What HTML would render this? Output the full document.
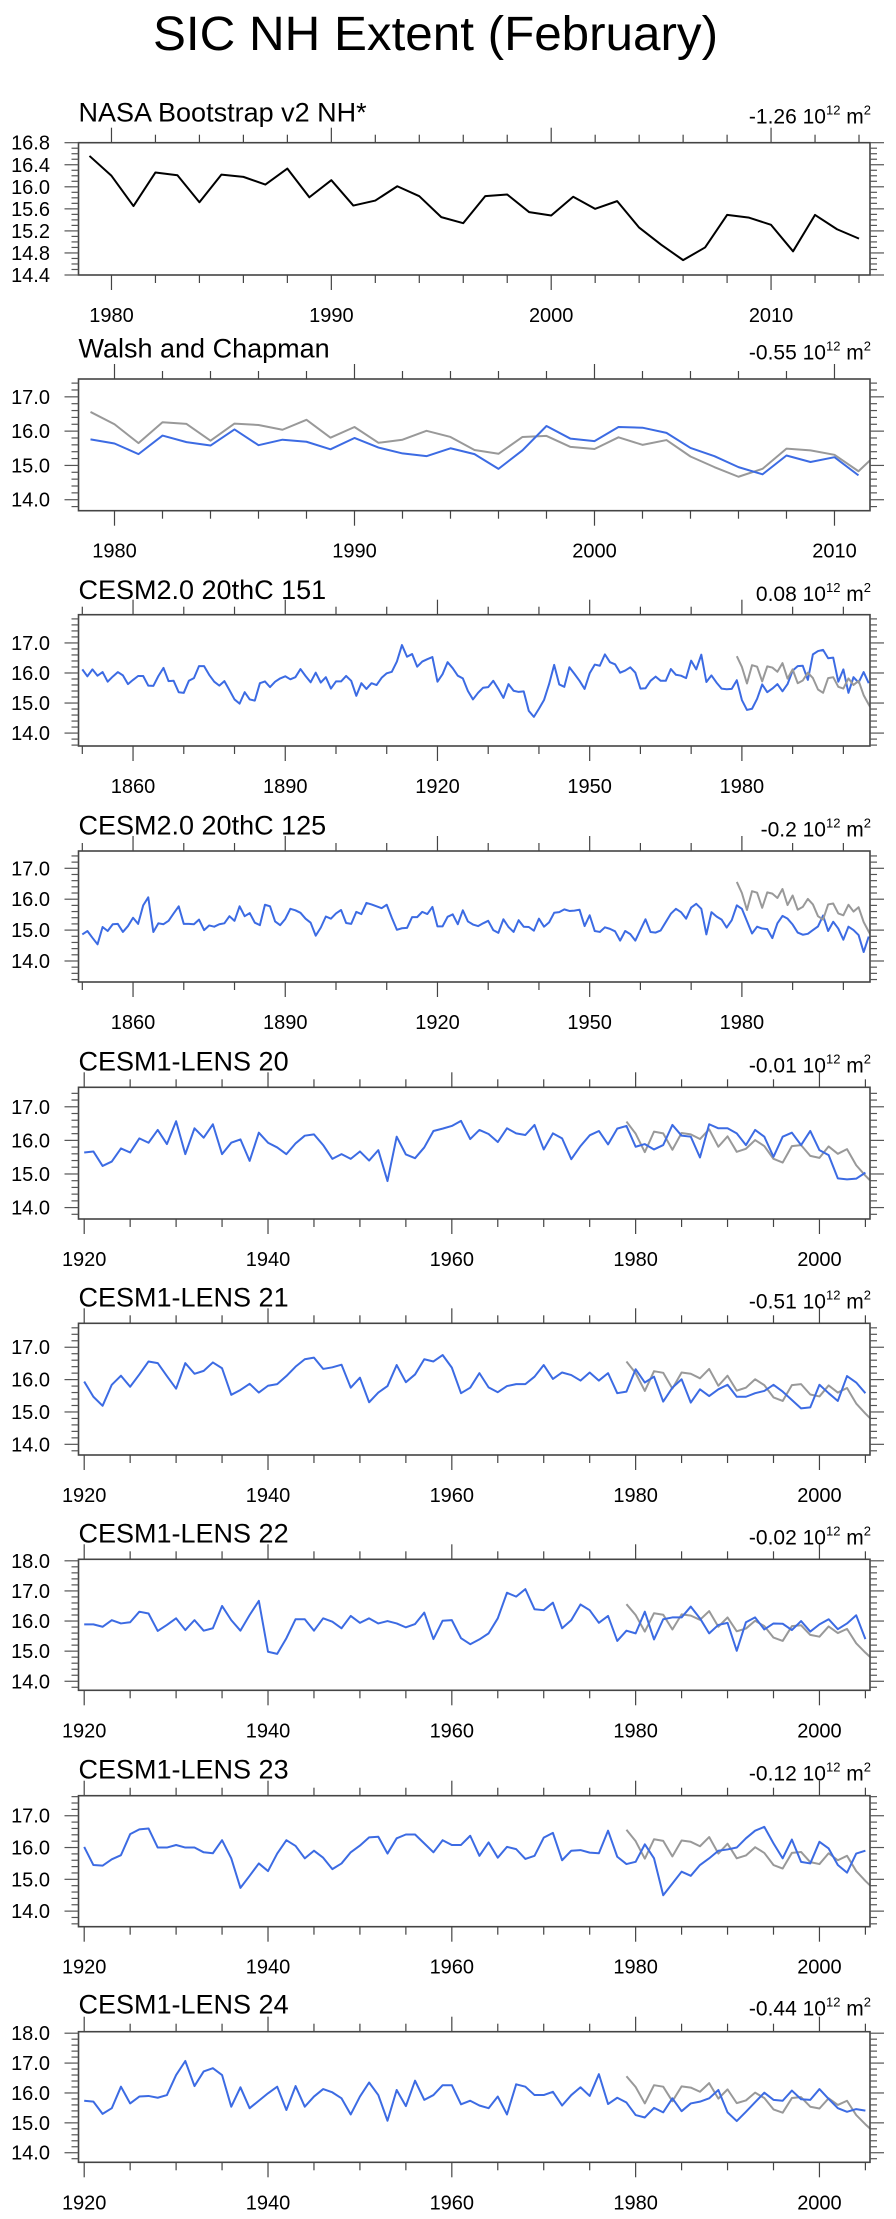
<!DOCTYPE html>
<html>
<head>
<meta charset="utf-8">
<style>
  html,body{margin:0;padding:0;background:#fff;}
  svg{display:block;font-family:"Liberation Sans",Arial,sans-serif;}
</style>
</head>
<body>
<svg id="chart" width="896" height="2219" viewBox="0 0 896 2219" xmlns="http://www.w3.org/2000/svg">
  <text x="435.5" y="50" text-anchor="middle" font-size="48" textLength="565" lengthAdjust="spacingAndGlyphs" fill="#000">SIC NH Extent (February)</text>
</svg>
<script>
// ---------------- data (February NH sea ice extent, 10^12 m^2) ----------------
const nasaStart = 1979;
const nasaValues = [16.56,16.20,15.65,16.26,16.21,15.72,16.22,16.18,16.04,16.33,15.81,16.12,15.66,15.75,16.01,15.83,15.45,15.34,15.83,15.86,15.54,15.48,15.82,15.60,15.74,15.26,14.95,14.67,14.90,15.49,15.44,15.31,14.83,15.49,15.23,15.06];

const walshStart = 1979;
const walshValues = [15.76,15.64,15.33,15.87,15.68,15.58,16.05,15.59,15.75,15.69,15.47,15.80,15.52,15.35,15.27,15.50,15.33,14.90,15.44,16.15,15.78,15.71,16.12,16.10,15.95,15.51,15.27,14.95,14.74,15.29,15.10,15.24,14.71];

const cesm2Start = 1850;
const cesm2m151Values = [16.12,15.89,16.12,15.91,16.03,15.71,15.88,16.03,15.92,15.63,
15.77,15.90,15.90,15.58,15.57,15.90,16.17,15.73,15.74,15.36,
15.34,15.74,15.83,16.23,16.23,15.94,15.71,15.58,15.73,15.43,
15.12,14.98,15.36,15.12,15.08,15.66,15.72,15.53,15.71,15.82,
15.89,15.79,15.86,16.13,15.90,15.69,16.01,15.68,15.86,15.48,
15.72,15.72,15.90,15.74,15.24,15.66,15.47,15.66,15.60,15.84,
15.99,16.04,16.38,16.93,16.54,16.63,16.21,16.38,16.46,16.53,
15.71,15.96,16.36,16.16,15.91,15.82,15.40,15.12,15.34,15.51,
15.53,15.74,15.47,15.17,15.63,15.41,15.37,15.39,14.74,14.54,
14.81,15.10,15.63,16.27,15.62,15.54,16.19,15.97,15.74,15.47,
15.99,16.28,16.24,16.62,16.36,16.29,16.01,16.08,16.19,16.01,
15.48,15.49,15.74,15.88,15.74,15.74,16.13,15.94,15.91,15.83,
16.41,16.12,16.61,15.70,15.92,15.68,15.48,15.46,15.47,15.76,
15.10,14.77,14.81,15.14,15.62,15.36,15.48,15.63,15.39,15.63,
16.08,16.23,16.24,15.77,16.62,16.73,16.77,16.49,16.51,15.71,
16.12,15.34,15.86,15.68,16.03,15.66];
const cesm2m125Values = [14.86,14.97,14.75,14.54,15.10,14.97,15.19,15.20,14.94,15.13,
15.40,15.20,15.80,16.06,14.94,15.22,15.19,15.30,15.54,15.77,
15.20,15.20,15.19,15.34,15.00,15.15,15.11,15.19,15.22,15.45,
15.30,15.77,15.45,15.55,15.24,15.16,15.82,15.77,15.28,15.16,
15.36,15.69,15.64,15.56,15.37,15.24,14.82,15.08,15.44,15.37,
15.54,15.65,15.23,15.20,15.59,15.52,15.88,15.83,15.77,15.71,
15.82,15.40,15.01,15.06,15.07,15.42,15.42,15.59,15.52,15.75,
15.12,15.12,15.43,15.51,15.19,15.64,15.28,15.18,15.13,15.22,
15.30,15.00,14.91,15.35,15.10,14.94,15.32,15.11,15.10,14.98,
15.37,15.11,15.25,15.56,15.58,15.67,15.62,15.63,15.66,15.13,
15.48,14.97,14.94,15.09,15.04,14.96,14.66,14.97,14.87,14.66,
15.01,15.35,14.94,14.92,14.99,15.26,15.53,15.69,15.58,15.37,
15.73,15.85,15.69,14.86,15.58,15.44,15.34,15.08,15.32,15.80,
15.69,15.29,14.89,15.11,15.05,15.03,14.74,15.22,15.46,15.37,
15.18,14.92,14.85,14.88,15.00,15.12,15.47,14.97,15.27,15.05,
14.69,15.11,15.00,14.84,14.29,14.79];

const lensStart = 1920;
const lens20Values = [15.64,15.67,15.24,15.37,15.76,15.64,16.06,15.93,16.31,15.89,
16.57,15.59,16.36,16.08,16.48,15.59,15.93,16.03,15.39,16.23,
15.93,15.79,15.59,15.91,16.14,16.18,15.86,15.45,15.59,15.45,
15.67,15.40,15.71,14.79,16.11,15.58,15.47,15.79,16.28,16.35,
16.43,16.58,16.04,16.31,16.19,15.95,16.36,16.21,16.16,16.46,
15.73,16.21,16.06,15.44,15.83,16.15,16.28,15.88,16.35,16.43,
15.81,15.89,15.73,15.86,16.46,16.14,16.11,15.49,16.48,16.36,
16.36,16.21,15.86,16.31,16.11,15.51,16.11,16.23,15.86,16.28,
15.71,15.56,14.87,14.84,14.86,15.04];
const lens21Values = [15.94,15.47,15.19,15.84,16.12,15.78,16.16,16.56,16.51,16.11,
15.72,16.51,16.18,16.27,16.53,16.35,15.53,15.68,15.87,15.60,
15.81,15.86,16.11,16.40,16.63,16.68,16.33,16.38,16.46,15.75,
16.06,15.30,15.60,15.80,16.45,15.92,16.16,16.63,16.56,16.76,
16.37,15.58,15.75,16.20,15.76,15.61,15.80,15.86,15.86,16.09,
16.45,16.02,16.22,16.14,15.97,16.22,15.97,16.20,15.58,15.63,
16.32,15.91,16.09,15.32,15.75,16.01,15.29,15.70,15.49,15.70,
15.84,15.47,15.47,15.58,15.65,15.84,15.63,15.37,15.11,15.14,
15.84,15.58,15.34,16.11,15.91,15.58];
const lens22Values = [15.89,15.89,15.81,16.03,15.92,15.96,16.31,16.25,15.67,15.87,
16.09,15.70,16.03,15.68,15.76,16.50,16.03,15.68,16.20,16.67,
14.98,14.91,15.43,16.06,16.06,15.68,16.09,15.98,15.76,16.17,
15.94,16.09,15.92,16.00,15.92,15.79,15.90,16.28,15.40,16.01,
16.03,15.43,15.23,15.39,15.59,16.09,16.94,16.81,17.06,16.39,
16.36,16.61,15.76,16.03,16.55,16.36,15.94,16.17,15.34,15.68,
15.59,16.31,15.39,16.06,16.12,16.12,16.48,16.09,15.59,15.87,
15.94,15.01,15.96,16.12,15.72,15.92,15.91,15.70,16.00,15.65,
15.89,16.06,15.73,15.92,16.19,15.40];
const lens23Values = [16.02,15.45,15.43,15.63,15.76,16.42,16.57,16.60,16.00,16.00,
16.08,16.00,16.00,15.85,15.82,16.23,15.66,14.73,15.11,15.50,
15.26,15.81,16.23,16.05,15.66,15.90,15.68,15.32,15.50,15.85,
16.06,16.32,16.34,15.81,16.29,16.41,16.41,16.13,15.85,16.23,
16.08,16.08,16.37,15.74,16.16,15.68,16.02,15.95,15.64,15.74,
16.31,16.46,15.60,15.90,15.92,15.84,15.82,16.53,15.71,15.48,
15.55,16.10,15.66,14.50,14.87,15.24,15.11,15.45,15.66,15.90,
15.94,16.00,16.29,16.53,16.65,16.13,15.66,16.25,15.55,15.50,
16.18,15.97,15.45,15.21,15.81,15.90];
const lens24Values = [15.74,15.71,15.30,15.49,16.21,15.65,15.88,15.90,15.84,15.93,
16.60,17.07,16.23,16.72,16.83,16.60,15.54,16.19,15.49,15.74,
15.99,16.21,15.43,16.23,15.54,15.88,16.13,16.02,15.82,15.28,
15.88,16.35,15.93,15.07,16.10,15.56,16.41,15.77,15.93,16.26,
16.26,15.62,15.74,15.58,15.49,15.88,15.28,16.29,16.21,15.93,
15.93,16.04,15.58,15.93,16.19,15.90,16.63,15.63,15.84,15.68,
15.26,15.18,15.50,15.35,15.82,15.39,15.65,15.71,15.82,16.10,
15.35,15.06,15.37,15.69,16.01,15.77,15.74,16.08,15.79,15.77,
16.13,15.80,15.49,15.37,15.46,15.41];

const panelTitles = ["NASA Bootstrap v2 NH*","Walsh and Chapman","CESM2.0 20thC 151","CESM2.0 20thC 125","CESM1-LENS 20","CESM1-LENS 21","CESM1-LENS 22","CESM1-LENS 23","CESM1-LENS 24"];
const trendLabels = ["-1.26","-0.55","0.08","-0.2","-0.01","-0.51","-0.02","-0.12","-0.44"];

// ---------------- layout ----------------
const BLUE = "#3c6be3", GRAY = "#999999";
const FX0 = 78.5, FX1 = 870;
const panels = [
  {top:142.7,bot:275,ty:121.7,x0:1978.5,x1:2014.5,y0:14.4,y1:16.8,xmaj:[1980,1990,2000,2010],xmin:2,ylab:0.4,ymin:0.1,dec:1,
   series:[{v:nasaValues,s:nasaStart,c:"#000"}]},
  {top:379,bot:510.7,ty:357.3,x0:1978.5,x1:2011.48,y0:13.68,y1:17.52,xmaj:[1980,1990,2000,2010],xmin:2,ylab:1,ymin:0.2,dec:1,
   series:[{v:nasaValues,s:nasaStart,c:GRAY},{v:walshValues,s:walshStart,c:BLUE}]},
  {top:614.7,bot:746,ty:599,x0:1849.25,x1:2005.25,y0:13.57,y1:17.94,xmaj:[1860,1890,1920,1950,1980],xmin:10,ylab:1,ymin:0.2,dec:1,
   series:[{v:cesm2m151Values,s:cesm2Start,c:BLUE},{v:nasaValues,s:nasaStart,c:GRAY}]},
  {top:851,bot:982,ty:834.3,x0:1849.25,x1:2005.25,y0:13.32,y1:17.56,xmaj:[1860,1890,1920,1950,1980],xmin:10,ylab:1,ymin:0.2,dec:1,
   series:[{v:cesm2m125Values,s:cesm2Start,c:BLUE},{v:nasaValues,s:nasaStart,c:GRAY}]},
  {top:1087.3,bot:1219,ty:1070.7,x0:1919.38,x1:2005.5,y0:13.66,y1:17.58,xmaj:[1920,1940,1960,1980,2000],xmin:5,ylab:1,ymin:0.2,dec:1,
   series:[{v:nasaValues,s:nasaStart,c:GRAY},{v:lens20Values,s:lensStart,c:BLUE}]},
  {top:1323.3,bot:1455,ty:1306.7,x0:1919.38,x1:2005.5,y0:13.67,y1:17.74,xmaj:[1920,1940,1960,1980,2000],xmin:5,ylab:1,ymin:0.2,dec:1,
   series:[{v:nasaValues,s:nasaStart,c:GRAY},{v:lens21Values,s:lensStart,c:BLUE}]},
  {top:1559.3,bot:1690.3,ty:1542.3,x0:1919.38,x1:2005.5,y0:13.70,y1:18.05,xmaj:[1920,1940,1960,1980,2000],xmin:5,ylab:1,ymin:0.2,dec:1,
   series:[{v:nasaValues,s:nasaStart,c:GRAY},{v:lens22Values,s:lensStart,c:BLUE}]},
  {top:1795.7,bot:1926.7,ty:1778.3,x0:1919.38,x1:2005.5,y0:13.51,y1:17.63,xmaj:[1920,1940,1960,1980,2000],xmin:5,ylab:1,ymin:0.2,dec:1,
   series:[{v:nasaValues,s:nasaStart,c:GRAY},{v:lens23Values,s:lensStart,c:BLUE}]},
  {top:2031.7,bot:2162.3,ty:2013.3,x0:1919.38,x1:2005.5,y0:13.68,y1:18.05,xmaj:[1920,1940,1960,1980,2000],xmin:5,ylab:1,ymin:0.2,dec:1,
   series:[{v:nasaValues,s:nasaStart,c:GRAY},{v:lens24Values,s:lensStart,c:BLUE}]}
];

const NS = "http://www.w3.org/2000/svg";
const svg = document.getElementById("chart");
function el(tag, parent){ const e = document.createElementNS(NS, tag); parent.appendChild(e); return e; }
function line(parent, x1, y1, x2, y2, col, w){
  const l = el("line", parent);
  l.setAttribute("x1", x1); l.setAttribute("y1", y1); l.setAttribute("x2", x2); l.setAttribute("y2", y2);
  l.setAttribute("stroke", col); l.setAttribute("stroke-width", w);
  return l;
}

panels.forEach((p, idx) => {
  const g = el("g", svg);
  
  
  const xs = yr => FX0 + (yr - p.x0) / (p.x1 - p.x0) * (FX1 - FX0);
  const ys = v => p.bot - (v - p.y0) / (p.y1 - p.y0) * (p.bot - p.top);

  // title
  const t = el("text", g);
  
  
  t.setAttribute("x", FX0); t.setAttribute("y", p.ty);
  t.setAttribute("font-size", "27");
  t.textContent = panelTitles[idx];

  // trend label
  const tr = el("text", g);
  
  
  tr.setAttribute("x", 871); tr.setAttribute("y", p.ty + 2);
  tr.setAttribute("text-anchor", "end"); tr.setAttribute("font-size", "21");
  const s1 = el("tspan", tr); s1.textContent = trendLabels[idx] + " 10";
  const s2 = el("tspan", tr); s2.setAttribute("dy", "-9"); s2.setAttribute("font-size", "13"); s2.textContent = "12";
  const s3 = el("tspan", tr); s3.setAttribute("dy", "9"); s3.textContent = " m";
  const s4 = el("tspan", tr); s4.setAttribute("dy", "-9"); s4.setAttribute("font-size", "13"); s4.textContent = "2";

  // clip
  const cp = el("clipPath", g); cp.setAttribute("id", "clip" + idx);
  const cr = el("rect", cp);
  cr.setAttribute("x", FX0); cr.setAttribute("y", p.top); cr.setAttribute("width", FX1 - FX0); cr.setAttribute("height", p.bot - p.top);

  // series
  p.series.forEach((s, si) => {
    const pts = s.v.map((v, i) => xs(s.s + i).toFixed(2) + "," + ys(v).toFixed(2)).join(" ");
    const pl = el("polyline", g);
    
    
    pl.setAttribute("points", pts);
    pl.setAttribute("fill", "none"); pl.setAttribute("stroke", s.c); pl.setAttribute("stroke-width", "2");
    pl.setAttribute("stroke-linejoin", "round");
    pl.setAttribute("clip-path", "url(#clip" + idx + ")");
  });

  // frame
  const fr = el("rect", g);
  
  
  fr.setAttribute("x", FX0); fr.setAttribute("y", p.top); fr.setAttribute("width", FX1 - FX0); fr.setAttribute("height", p.bot - p.top);
  fr.setAttribute("fill", "none"); fr.setAttribute("stroke", "#444"); fr.setAttribute("stroke-width", "1.6");

  // x ticks
  const firstMin = Math.ceil(p.x0 / p.xmin) * p.xmin;
  for (let yr = firstMin; yr <= p.x1; yr += p.xmin) {
    const major = p.xmaj.indexOf(yr) >= 0;
    const L = major ? 15 : 8;
    const x = xs(yr);
    line(g, x, p.top, x, p.top - L, "#444", 1.2);
    line(g, x, p.bot, x, p.bot + L, "#444", 1.2);
  }
  p.xmaj.forEach(yr => {
    const lb = el("text", g);
    
    
    lb.setAttribute("x", xs(yr)); lb.setAttribute("y", p.bot + 47);
    lb.setAttribute("text-anchor", "middle"); lb.setAttribute("font-size", "20");
    lb.textContent = String(yr);
  });

  // y ticks
  const nMin = Math.round(p.ylab / p.ymin);
  const k0 = Math.ceil(p.y0 / p.ymin - 1e-6), k1 = Math.floor(p.y1 / p.ymin + 1e-6);
  for (let k = k0; k <= k1; k++) {
    const v = k * p.ymin;
    const major = Math.abs(k % nMin) < 1e-6 && v >= 13.99;
    const y = ys(v);
    const L = major ? 14 : 7;
    line(g, FX0, y, FX0 - L, y, "#555", 1.2);
    line(g, FX1, y, FX1 + L, y, "#555", 1.2);
    if (major) {
      const lb = el("text", g);
      
      
      lb.setAttribute("x", 50); lb.setAttribute("y", y + 7);
      lb.setAttribute("text-anchor", "end"); lb.setAttribute("font-size", "20");
      lb.textContent = v.toFixed(p.dec);
    }
  }
});
</script>
</body>
</html>
